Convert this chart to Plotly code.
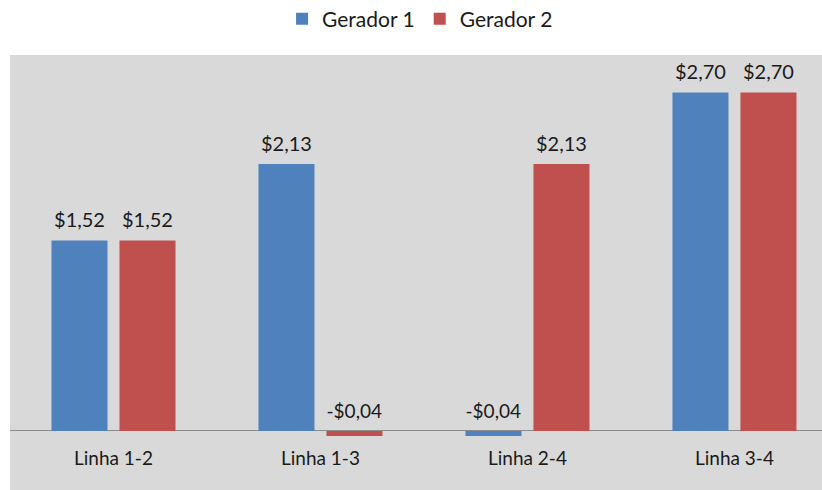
import plotly.graph_objects as go

categories = ["Linha 1-2", "Linha 1-3", "Linha 2-4", "Linha 3-4"]
gerador1 = [1.52, 2.13, -0.04, 2.70]
gerador2 = [1.52, -0.04, 2.13, 2.70]
series_names = ["Gerador 1", "Gerador 2"]
colors = ["#4f81bd", "#c0504d"]

FONT = "Lato, 'Open Sans', sans-serif"
LABEL_PAD = 0.05  # extra gap (data units) between bar top and its value label


def fmt(v):
    s = f"${abs(v):.2f}".replace(".", ",")
    return ("-" + s) if v < 0 else s


fig = go.Figure()
for name, vals, col, grp in zip(series_names, [gerador1, gerador2], colors, ["a", "b"]):
    fig.add_trace(go.Bar(
        x=categories, y=vals, name=name, marker=dict(color=col, line=dict(width=0)),
        offsetgroup=grp, hoverinfo="x+y",
    ))
for name, vals, grp in zip(series_names, [gerador1, gerador2], ["a", "b"]):
    fig.add_trace(go.Bar(
        x=categories, y=[max(v, 0) + LABEL_PAD for v in vals], offsetgroup=grp,
        marker=dict(color="rgba(0,0,0,0)", line=dict(width=0)),
        text=[fmt(v) for v in vals], textposition="outside", cliponaxis=False,
        textfont=dict(family=FONT, size=20, color="#1a1a1a"),
        showlegend=False, hoverinfo="skip",
    ))

fig.add_shape(type="rect", xref="paper", yref="paper", x0=0, x1=1, y0=-0.2, y1=1,
              fillcolor="#d9d9d9", line=dict(width=0), layer="below")

fig.update_layout(
    width=822, height=490,
    margin=dict(l=10, r=0, t=55, b=45, autoexpand=False),
    paper_bgcolor="white", plot_bgcolor="rgba(0,0,0,0)",
    barmode="group", bargap=0.343, bargroupgap=0.176,
    font=dict(family=FONT, size=19, color="#1a1a1a"),
    legend=dict(orientation="h", x=0.505, xanchor="center", y=1.092, yanchor="middle",
                font=dict(family=FONT, size=21, color="#1a1a1a"),
                itemwidth=30, traceorder="normal"),
    xaxis=dict(range=[-0.5, 3.423], showgrid=False, showline=False, ticks="",
               tickfont=dict(family=FONT, size=19, color="#1a1a1a")),
    yaxis=dict(range=[-0.112, 3.0], showgrid=False, showticklabels=False, zeroline=True,
               zerolinecolor="#8c8c8c", zerolinewidth=1, showline=False),
)

fig.write_html("out.html", config={"displayModeBar": False},
               post_script="document.body.style.margin='0px';")
